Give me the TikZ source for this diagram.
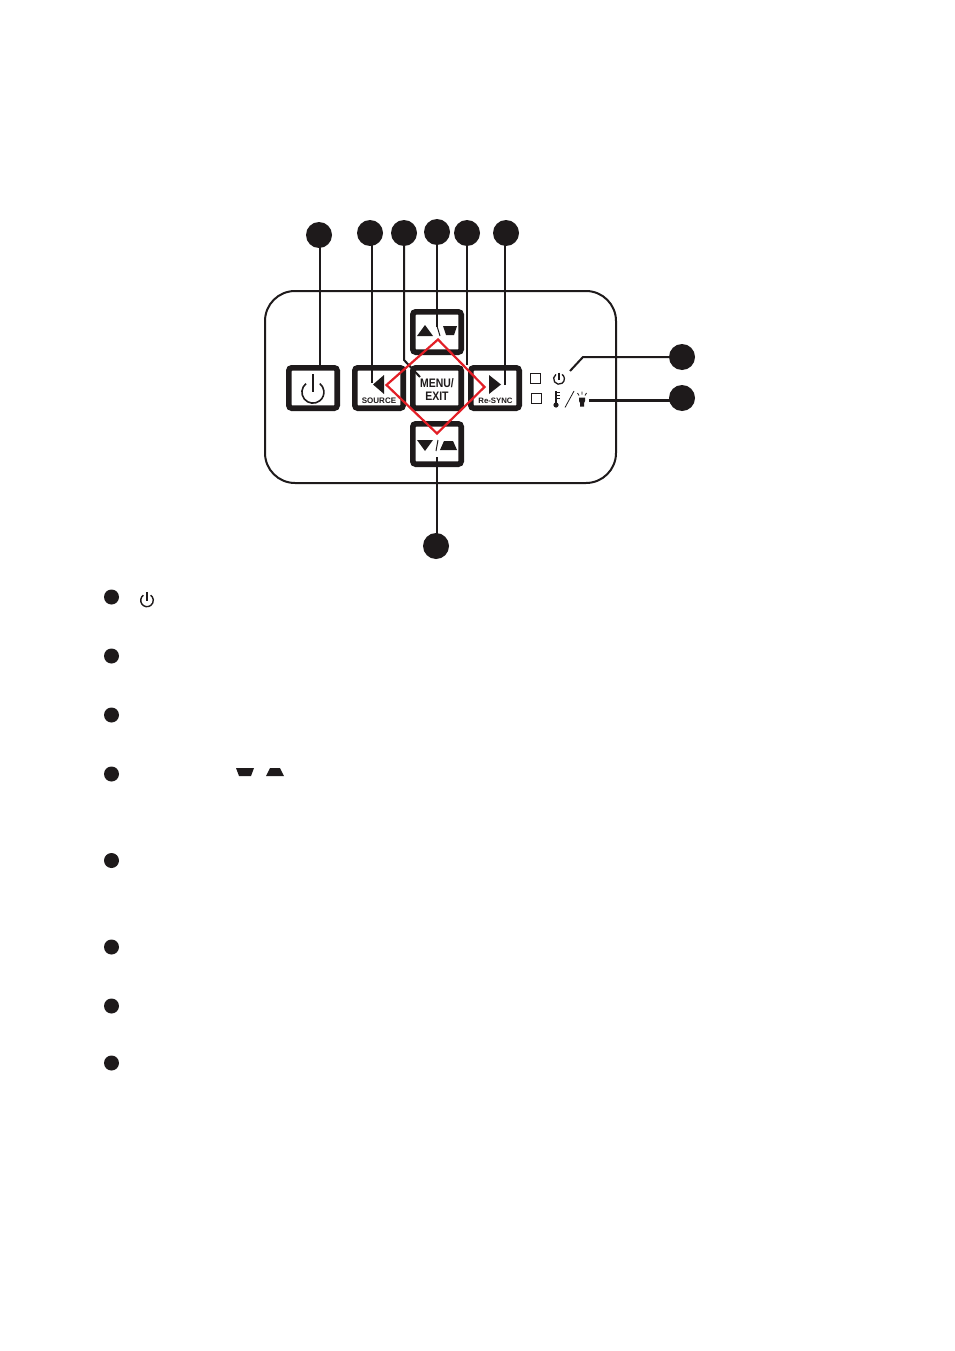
\documentclass[tikz,border=0pt]{standalone}
\usepackage{fontspec}
\setmainfont{Liberation Sans}
\usetikzlibrary{calc}
\definecolor{ink}{RGB}{30,26,27}
\definecolor{diam}{RGB}{226,30,38}
\tikzset{
 x=1pt,y=-1pt,
 dotbig/.style={circle,fill=ink,draw=none,minimum size=26pt,inner sep=0pt},
 dotsmall/.style={circle,fill=ink,draw=none,minimum size=15pt,inner sep=0pt},
 btn/.style={draw=ink,line width=5.6pt,rounded corners=3pt,minimum width=48.4pt,minimum height=40.4pt,inner sep=0pt,fill=white},
 lead/.style={draw=ink,line width=2pt},
 lbl/.style={inner sep=0pt,text=ink,font=\bfseries},
}
\begin{document}
\begin{tikzpicture}
\useasboundingbox (0,0) rectangle (954,1351);
\fill[white] (0,0) rectangle (954,1351);
% panel
\draw[draw=ink,line width=2pt,rounded corners=30pt] (265,291) rectangle (616,483);
% buttons
\node[btn] (power) at (313,388) {};
\node[btn] (source) at (379,388) {};
\node[btn] (menu) at (437,388) {};
\node[btn] (resync) at (495,388) {};
\node[btn] (up) at (437,332) {};
\node[btn] (down) at (437,444) {};
% button labels
\node[lbl,font=\bfseries\fontsize{11}{13.5}\selectfont,align=center] (menutext) at (437,389.5) {\scalebox{0.95}[1.12]{MENU/}\\\scalebox{0.95}[1.12]{EXIT}};
\node[lbl,font=\bfseries\fontsize{8}{9}\selectfont] (sourcetext) at (379,401) {SOURCE};
\node[lbl,font=\bfseries\fontsize{7.8}{9}\selectfont] (resynctext) at (495.5,401) {Re-SYNC};
% arrows in buttons
\fill[ink] (373,384.5) -- (384,375) -- (384,394) -- cycle;
\fill[ink] (501,384.5) -- (489,375) -- (489,394) -- cycle;
\fill[ink] (417,336) -- (425,325) -- (433,336) -- cycle;
\fill[ink] (443,326) -- (457,326) -- (454,335) -- (446,335) -- cycle;
\draw[ink,line width=1pt] (437,326) -- (440,336);
\fill[ink] (417,440) -- (433,440) -- (425,451) -- cycle;
\fill[ink] (440,450) -- (457,450) -- (453,441) -- (444,441) -- cycle;
\draw[ink,line width=1pt] (436,451) -- (438,440);
% power icon in button
\draw[ink,line width=1.6pt] (306,383.6) arc[start angle=-129,end angle=-411,radius=11];
\draw[ink,line width=1.6pt] (313,374) -- (313,392);
% status icons
\node[draw=ink,line width=1pt,minimum size=10.5pt,inner sep=0pt] (chk1) at (535.5,378.5) {};
\node[draw=ink,line width=1pt,minimum size=10.5pt,inner sep=0pt] (chk2) at (536.5,398.5) {};
\draw[ink,line width=1.3pt] (555.9,374.4) arc[start angle=-125,end angle=-415,radius=5.4];
\draw[ink,line width=1.3pt] (559,372.5) -- (559,379.5);
\fill[ink] (556,405) circle (2.6);
\draw[ink,line width=1.5pt] (556,391) -- (556,404);
\draw[ink,line width=.7pt] (557,392) -- (559.5,392) (557,395) -- (559.5,395) (557,398) -- (559.5,398);
\draw[ink,line width=.8pt] (565,407.5) -- (574,391);
\fill[ink] (579,397.5) -- (585,397.5) -- (585,401) -- (584,403) -- (584,406.5) -- (580,406.5) -- (580,403) -- (579,401) -- cycle;
\draw[ink,line width=.8pt] (582,391.5) -- (582,394.5) (577.5,393) -- (579,395.5) (586.5,393) -- (585,395.5);
% callout circles
\node[dotbig] (c1) at (319,235) {};
\node[dotbig] (c2) at (370,233) {};
\node[dotbig] (c3) at (404,233) {};
\node[dotbig] (c4) at (437,232) {};
\node[dotbig] (c5) at (467,233) {};
\node[dotbig] (c6) at (506,233) {};
\node[dotbig] (c7) at (682,357) {};
\node[dotbig] (c8) at (682,398) {};
\node[dotbig] (c9) at (436,546) {};
% free ends
\coordinate (e1) at (320,370);
\coordinate (e2) at (372,383);
\coordinate (e3a) at (404,360);
\coordinate (e3) at (420,377);
\coordinate (e4) at (437,327);
\coordinate (e5) at (467,365);
\coordinate (e6) at (505,385);
\coordinate (e7a) at (583,357);
\coordinate (e7) at (570,371);
\coordinate (e8) at (589,400.5);
\coordinate (e9) at (436.5,457);
% leaders
\draw[lead] (e1) -- (320,235);
\draw[lead] (e2) -- (372,233);
\draw[lead] (e3) -- (e3a) -- (c3.center);
\draw[lead] (e4) -- (c4.center);
\draw[lead] (e5) -- (c5.center);
\draw[lead] (e6) -- (505,233);
\draw[lead] (e7) -- (e7a) -- (c7.center);
\draw[draw=ink,line width=2.6pt] (e8) -- (c8.center |- e8);
\draw[lead] (e9) -- (436.5,546);
% red diamond
\draw[draw=diam,line width=2.2pt,line join=miter] (438,339.5) -- (484.5,387) -- (437,433.5) -- (386.5,385) -- cycle;
% list
\node[dotsmall] (l1) at (111.5,597) {};
\node[dotsmall] (l2) at (111.5,656) {};
\node[dotsmall] (l3) at (111.5,715) {};
\node[dotsmall] (l4) at (111.5,774) {};
\node[dotsmall] (l5) at (111.5,860.5) {};
\node[dotsmall] (l6) at (111.5,947) {};
\node[dotsmall] (l7) at (111.5,1006) {};
\node[dotsmall] (l8) at (111.5,1063) {};
\draw[ink,line width=1.4pt] (143.4,595.2) arc[start angle=-125,end angle=-415,radius=6.3];
\draw[ink,line width=1.4pt] (147,592) -- (147,600.5);
\fill[ink] (236,768) -- (254,768) -- (251,776) -- (239,776) -- cycle;
\fill[ink] (266,776) -- (284,776) -- (280,768) -- (270,768) -- cycle;
\end{tikzpicture}
\end{document}
